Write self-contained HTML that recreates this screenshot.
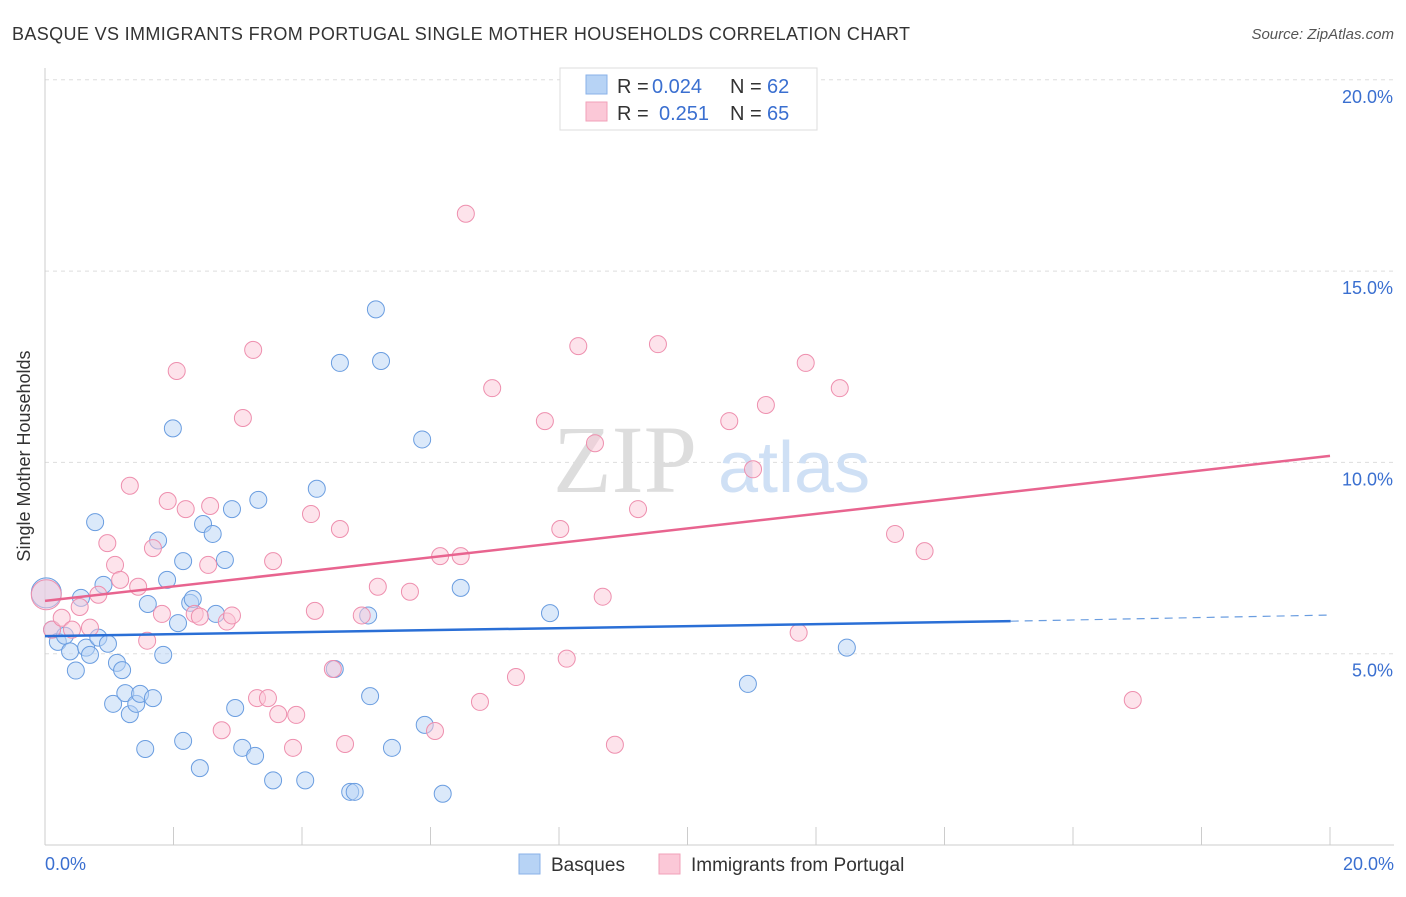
<!DOCTYPE html>
<html><head><meta charset="utf-8"><style>
body{margin:0;background:#fff;font-family:"Liberation Sans",sans-serif}
</style></head><body>
<svg width="1406" height="892" xmlns="http://www.w3.org/2000/svg">
<text x="12" y="40" font-size="18" textLength="898" fill="#333">BASQUE VS IMMIGRANTS FROM PORTUGAL SINGLE MOTHER HOUSEHOLDS CORRELATION CHART</text>
<text x="1394" y="39" font-size="15" fill="#555" font-style="italic" text-anchor="end">Source: ZipAtlas.com</text>
<g id="grid"></g>
<text x="553" y="492" font-size="96" fill="#ddd" font-family="Liberation Serif">ZIP</text>
<text x="718" y="492" font-size="72" fill="#cfe0f5">atlas</text>
<g id="pts"></g>
<g id="lines"></g>
<text x="30" y="456" font-size="18" fill="#333" transform="rotate(-90 30 456)" text-anchor="middle">Single Mother Households</text>
<g>
<rect x="560" y="68" width="257" height="62" fill="#fff" stroke="#ddd"/>
<rect x="586" y="75" width="21" height="19" fill="#b7d3f5" stroke="#8ab2e8"/>
<rect x="586" y="102" width="21" height="19" fill="#fbc8d7" stroke="#f1a1b8"/>
<text x="617" y="93" font-size="20" fill="#333">R =</text>
<text x="652" y="93" font-size="20" fill="#3a6fd0">0.024</text>
<text x="730" y="93" font-size="20" fill="#333">N =</text>
<text x="767" y="93" font-size="20" fill="#3a6fd0">62</text>
<text x="617" y="120" font-size="20" fill="#333">R =</text>
<text x="659" y="120" font-size="20" fill="#3a6fd0">0.251</text>
<text x="730" y="120" font-size="20" fill="#333">N =</text>
<text x="767" y="120" font-size="20" fill="#3a6fd0">65</text>
</g>
<g>
<rect x="519" y="854" width="21" height="20" fill="#b7d3f5" stroke="#8ab2e8"/>
<text x="551" y="871" font-size="19" fill="#333">Basques</text>
<rect x="659" y="854" width="21" height="20" fill="#fbc8d7" stroke="#f1a1b8"/>
<text x="691" y="871" font-size="19" fill="#333">Immigrants from Portugal</text>
</g>
</svg>
<script>
const yTicks=[5,10,15,20];
const yTickLabels=["5.0%","10.0%","15.0%","20.0%"];
const xTickLabels=["0.0%","20.0%"];
const basqueX=[0.11,0.2,0.31,0.39,0.48,0.56,0.64,0.7,0.78,0.83,0.91,0.98,1.06,1.12,1.2,1.25,1.32,1.42,1.48,1.56,1.6,1.68,1.76,1.84,1.9,1.99,2.07,2.15,2.15,2.26,2.3,2.41,2.46,2.61,2.66,2.8,2.91,2.96,3.07,3.27,3.32,3.55,4.05,4.23,4.59,4.75,4.82,4.51,5.03,5.06,5.15,5.23,5.4,5.87,5.91,6.19,6.47,7.86,10.94,12.48,0.02];
const basqueY=[5.63,5.31,5.47,5.06,4.56,6.46,5.16,4.97,8.44,5.42,6.8,5.26,3.69,4.76,4.57,3.97,3.42,3.69,3.95,2.51,6.3,3.84,7.96,4.97,6.93,10.89,5.8,2.72,7.42,6.33,6.43,2.01,8.39,8.13,6.04,7.45,8.78,3.58,2.54,2.33,9.02,1.69,1.69,9.31,12.6,1.39,1.39,4.6,6.0,3.89,14.0,12.65,2.54,10.6,3.14,1.34,6.72,6.06,4.21,5.16,6.59];
const portX=[0.02,0.11,0.26,0.42,0.54,0.7,0.83,0.97,1.09,1.17,1.32,1.45,1.59,1.68,1.82,1.91,2.05,2.19,2.33,2.41,2.54,2.57,2.75,2.83,2.91,3.08,3.24,3.3,3.47,3.55,3.63,3.86,3.91,4.14,4.2,4.48,4.59,4.67,4.93,5.18,5.68,6.07,6.15,6.47,6.55,6.77,6.96,7.33,7.78,8.02,8.12,8.3,8.56,8.68,8.87,9.23,9.54,10.65,11.02,11.22,11.73,11.84,12.37,13.23,13.69,16.93];
const portY=[6.54,5.63,5.94,5.63,6.22,5.68,6.54,7.89,7.32,6.93,9.39,6.75,5.34,7.76,6.04,8.99,12.39,8.78,6.04,5.97,7.32,8.86,3.0,5.84,6.0,11.16,12.94,3.84,3.84,7.42,3.42,2.54,3.4,8.65,6.12,4.6,8.26,2.64,6.0,6.75,6.62,2.98,7.55,7.55,16.5,3.74,11.94,4.39,11.08,8.26,4.87,13.04,10.5,6.49,2.62,8.78,13.09,11.08,9.82,11.5,5.55,12.6,11.94,8.13,7.68,3.79];
const basqueTrend=[[0,5.46],[15.03,5.85]],basqueDash=[[15.03,5.85],[20,6.01]];
const portTrend=[[0,6.38],[20,10.17]];
const NS="http://www.w3.org/2000/svg";
const X=v=>45+v/20*1285, Y=v=>845-v/5*191.3;
function mk(tag,attrs,parent){const e=document.createElementNS(NS,tag);for(const k in attrs)e.setAttribute(k,attrs[k]);parent.appendChild(e);return e;}
const grid=document.getElementById('grid');
yTicks.forEach((t,i)=>{
 const l=mk('line',{x1:45,x2:1394,y1:Y(t),y2:Y(t),stroke:'#ddd','stroke-dasharray':'4,4'},grid);
 
 
 const tx=mk('text',{x:1393,y:Y(t)+23,'font-size':18,fill:'#3a6fd0','text-anchor':'end'},grid);
 tx.textContent=yTickLabels[i];
 
 
});
const ax=mk('line',{x1:45,x2:45,y1:68,y2:845,stroke:'#ccc'},grid);


const bx=mk('line',{x1:45,x2:1394,y1:845,y2:845,stroke:'#ccc'},grid);


for(let i=0;i<=10;i++){const t=mk('line',{x1:X(i*2),x2:X(i*2),y1:827,y2:845,stroke:'#ccc'},grid);
 
 }
[[0,'start',45],[1,'end',1394]].forEach(([i,a,x])=>{const t=mk('text',{x:x,y:870,'font-size':18,fill:'#3a6fd0','text-anchor':a},grid);t.textContent=xTickLabels[i];
 
 });
const pts=document.getElementById('pts');
function draw(xs,ys,fill,stroke,name,bigFirst){xs.forEach((x,i)=>{const big=bigFirst?(i===0):(i===xs.length-1&&x<0.05);const r=big?15:8.5;
 const c=mk('circle',{cx:X(x),cy:Y(ys[i]),r:r,fill:fill,'fill-opacity':0.5,stroke:stroke,'stroke-width':1},pts);
 
 });}
draw(basqueX,basqueY,'#b7d3f5','#6a9de0','basque-point',false);
draw(portX,portY,'#fbc8d7','#ee8fae','portugal-point',true);
const lines=document.getElementById('lines');
function ln(p,col,dash,name){const l=mk('line',{x1:X(p[0][0]),y1:Y(p[0][1]),x2:X(p[1][0]),y2:Y(p[1][1]),stroke:col,'stroke-width':dash?1.2:2.5},lines);if(dash)l.setAttribute('stroke-dasharray','8,6');
 
 }
ln(basqueTrend,'#2a6fd6',false,'basque-trendline');
ln(basqueDash,'#6a9de0',true,'basque-trend-extension');
ln(portTrend,'#e8648f',false,'portugal-trendline');
</script>
</body></html>
